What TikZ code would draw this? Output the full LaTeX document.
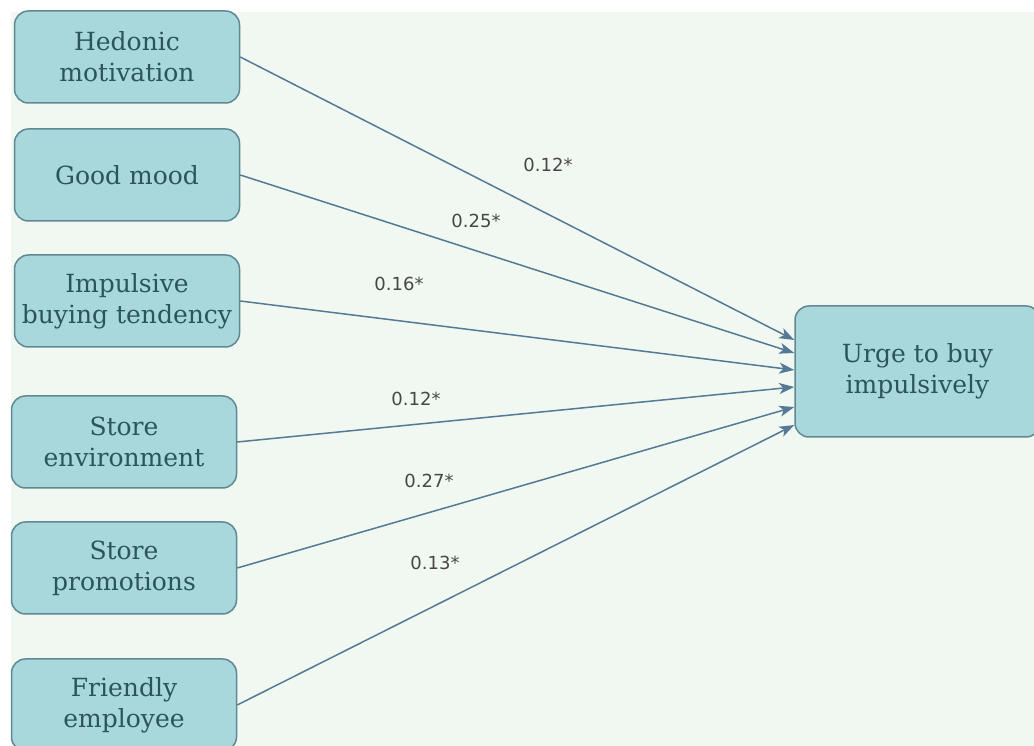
\documentclass[tikz,border=0pt]{standalone}
\usepackage{fontspec}
\setmainfont{DejaVu Serif}
\newfontfamily\coeffont{DejaVu Sans}
\usetikzlibrary{shapes.geometric, arrows.meta, positioning}
\definecolor{boxfill}{RGB}{168,216,220}
\definecolor{boxline}{RGB}{96,136,148}
\definecolor{boxtext}{RGB}{44,84,92}
\definecolor{arrowcol}{RGB}{84,122,150}
\definecolor{bgcol}{RGB}{241,248,241}
\tikzstyle{factor} = [rectangle, rounded corners=14pt, minimum width=225pt, minimum height=92pt, align=center, inner sep=0pt, draw=boxline, fill=boxfill, text=boxtext, line width=1.5pt, font=\fontsize{25}{31}\selectfont]
\tikzstyle{outcome} = [factor, minimum width=245pt, minimum height=131pt]
\tikzstyle{coef} = [font=\coeffont\fontsize{18}{20}\selectfont, text=black!72]
\tikzstyle{arrow} = [line width=1.5pt, draw=arrowcol, -{Stealth[length=15pt,width=11pt,inset=4pt]}]

\begin{document}
\begin{tikzpicture}[x=1pt, y=1pt, node distance=118pt]
    \fill [white] (0,0) rectangle (1034,746);
    \fill [bgcol] (11,0) rectangle (1034,734);
    \clip (0,0) rectangle (1034,746);
    \node (hed) [factor] at (127,689) {Hedonic\\motivation};
    \node (mood) [factor, below of=hed] {Good mood};
    \node (tend) [factor, below of=mood, yshift=-8pt] {Impulsive\\buying tendency};
    \node (env) [factor, below of=tend, xshift=-3pt, yshift=-23pt] {Store\\environment};
    \node (promo) [factor, below of=env, yshift=-8pt] {Store\\promotions};
    \node (friend) [factor, below of=promo, yshift=-19pt] {Friendly\\employee};
    \node (urge) [outcome] at (917.5,374.5) {Urge to buy\\impulsively};
    \draw [arrow] (hed.east) -- ([yshift=31.5pt]urge.west);
    \draw [arrow] (mood.east) -- ([yshift=18.5pt]urge.west);
    \draw [arrow] (tend.east) -- ([yshift=1.5pt]urge.west);
    \draw [arrow] (env.east) -- ([yshift=-15.5pt]urge.west);
    \draw [arrow] (promo.east) -- ([yshift=-35.5pt]urge.west);
    \draw [arrow] (friend.east) -- ([yshift=-53.5pt]urge.west);
    \node (c1) [coef] at (548,581) {0.12*};
    \node (c2) [coef] at (476,525) {0.25*};
    \node (c3) [coef] at (399,462) {0.16*};
    \node (c4) [coef] at (416,347) {0.12*};
    \node (c5) [coef] at (429,265) {0.27*};
    \node (c6) [coef] at (435,183) {0.13*};
\end{tikzpicture}
\end{document}
